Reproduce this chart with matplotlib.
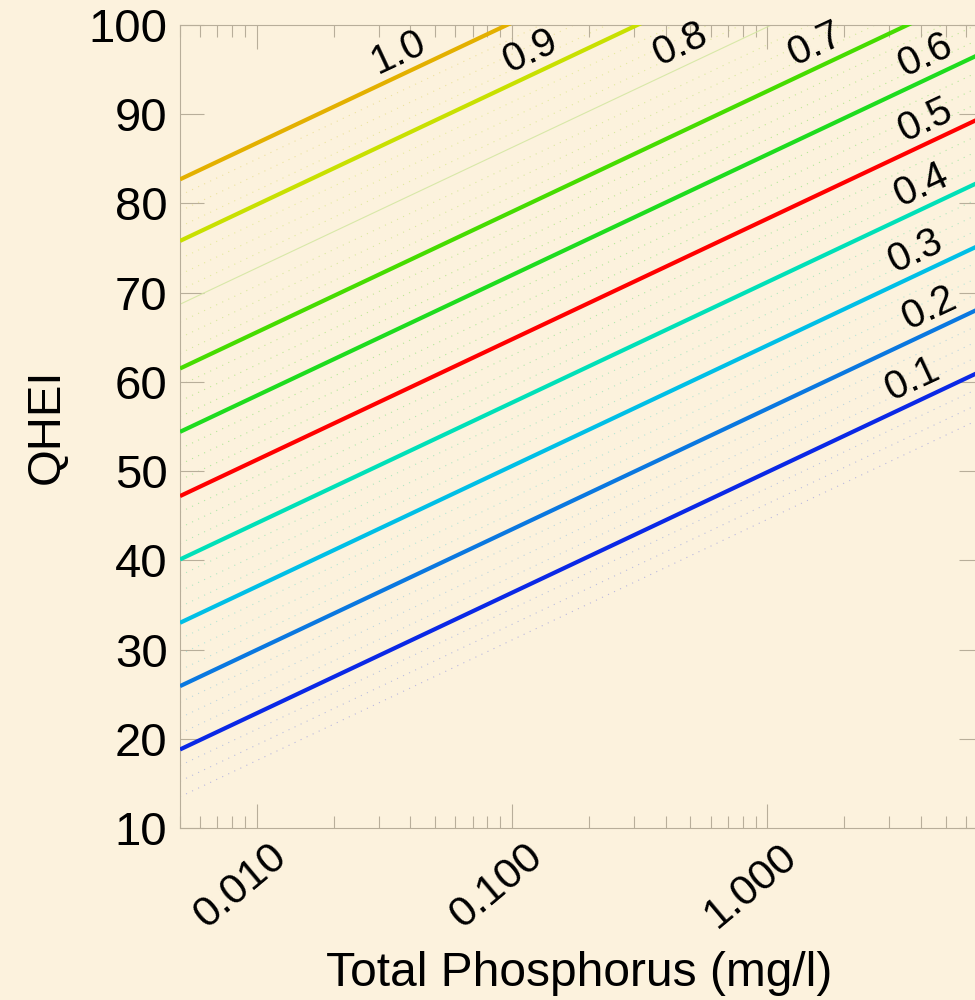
import numpy as np
import matplotlib
matplotlib.use("Agg")
import matplotlib.pyplot as plt
from matplotlib.colors import LinearSegmentedColormap
from matplotlib.transforms import ScaledTranslation

plt.rcParams['font.family'] = ['Liberation Sans', 'DejaVu Sans']

# x range of the plot (Total Phosphorus, mg/l)
tp_min, tp_max = 0.005, 7.0

# contour levels and QHEI where each line meets the left / right edge
levels = [0.1, 0.2, 0.3, 0.4, 0.5, 0.6, 0.7, 0.8, 0.9, 1.0]
qhei_left = [18.8, 25.9, 33.0, 40.1, 47.2, 54.4, 61.5, 68.7, 75.8, 82.7]
qhei_right = [61.3, 68.4, 75.5, 82.6, 89.7, 96.9, 104.0, 111.2, 118.3, 125.2]
level_colors = ['#0a28e6', '#0a78e0', '#00bfe6', '#00e0b8', '#ff0000',
                '#1edc1e', '#46dc00', '#d8e8a8', '#c8e000', '#e3b000']

# faint dotted contours in between
minor_levels = [0.025, 0.05, 0.075, 0.125, 0.15, 0.175, 0.225, 0.25, 0.275,
                0.325, 0.35, 0.375, 0.425, 0.45, 0.475, 0.525, 0.55, 0.575,
                0.625, 0.65, 0.675, 0.725, 0.75, 0.775, 0.825, 0.85, 0.875,
                0.925, 0.95, 0.975]
minor_left = [13.5, 15.25, 17.0, 20.6, 22.35, 24.1, 27.7, 29.45, 31.2,
              34.8, 36.55, 38.3, 41.9, 43.65, 45.4, 49.0, 50.75, 52.5,
              56.1, 57.85, 59.6, 63.2, 64.95, 66.7, 70.3, 72.05, 73.8,
              77.4, 79.15, 80.9]
minor_right = [v + 42.5 for v in minor_left]

# where the level labels sit (TP) on each line
label_tp = [3.7, 4.3, 3.8, 4.0, 4.17, 4.17, 1.54, 0.456, 0.118, 0.036]

yticks = [10, 20, 30, 40, 50, 60, 70, 80, 90, 100]
xticks = [0.01, 0.1, 1.0]
xticklabels = ['0.010', '0.100', '1.000']

bg = '#fcf2dd'
tick_col = '#b8ae9a'

fig = plt.figure(figsize=(9.75, 10), dpi=100)
fig.patch.set_facecolor(bg)
ax = fig.add_axes([180/975, 172/1000, 803/975, 803/1000])
ax.set_facecolor(bg)

minor_cmap = LinearSegmentedColormap.from_list(
    'qhei', ['#5050e0', '#60a0e0', '#50d0d0', '#40d890', '#40d840',
             '#50d820', '#a0d840', '#c8e040', '#d8c040'])

for lv, a, b in zip(minor_levels, minor_left, minor_right):
    ax.plot([tp_min, tp_max], [a, b], color=minor_cmap(lv), lw=0.8,
            ls=(0, (1, 5)), alpha=0.4, zorder=1)

for lv, a, b, c in zip(levels, qhei_left, qhei_right, level_colors):
    if lv == 0.8:
        ax.plot([tp_min, tp_max], [a, b], color=c, lw=0.8, zorder=2)
    else:
        ax.plot([tp_min, tp_max], [a, b], color=c, lw=3.0, zorder=3,
                solid_capstyle='butt')

slope = (qhei_right[0] - qhei_left[0]) / (np.log10(tp_max) - np.log10(tp_min))
for lv, a, t in zip(levels, qhei_left, label_tp):
    y = a + slope * (np.log10(t) - np.log10(tp_min)) + 2.7
    ax.text(t, y, f'{lv:.1f}', fontsize=29, rotation=25, ha='center',
            va='center', zorder=4)

ax.set_xscale('log')
ax.set_xlim(tp_min, tp_max)
ax.set_ylim(10, 100)
ax.set_yticks(yticks)
ax.set_xticks(xticks)
ax.set_xticklabels(xticklabels)
ax.tick_params(axis='both', which='major', direction='in', length=17,
               width=0.8, color=tick_col, top=True, right=True)
ax.tick_params(axis='x', which='minor', direction='in', length=8.5,
               width=0.8, color=tick_col, top=True)
ax.tick_params(axis='y', labelsize=34, pad=9)
ax.tick_params(axis='x', labelsize=31, pad=6)
for lab in ax.get_xticklabels():
    lab.set_rotation(40)
    lab.set_ha('center')
    lab.set_va('top')
    lab.set_transform(lab.get_transform() +
                      ScaledTranslation(-16/100, 0, fig.dpi_scale_trans))
for sp in ax.spines.values():
    sp.set_color(tick_col)
    sp.set_linewidth(0.8)

fig.text(47/975, 1 - 426/1000, 'QHEI', rotation=90, fontsize=34,
         ha='center', va='center')
fig.text(579/975, 1 - 974/1000, 'Total Phosphorus (mg/l)', fontsize=34.5,
         ha='center', va='center')

fig.savefig('out.png', dpi=100, facecolor=bg)
